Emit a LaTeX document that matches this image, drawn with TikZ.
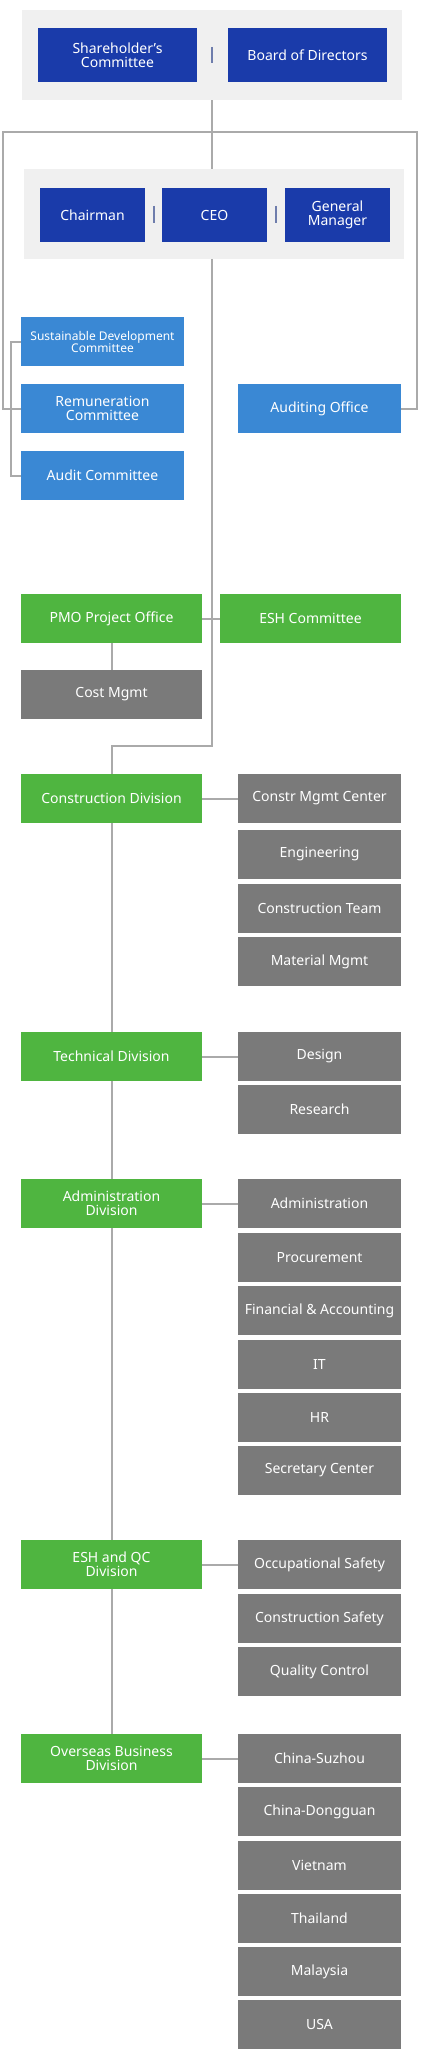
\documentclass[tikz,border=0pt]{standalone}
\usepackage{fontspec}
\setmainfont{Noto Sans}
\definecolor{navy}{RGB}{26,59,170}
\definecolor{skyblue}{RGB}{58,136,212}
\definecolor{leafgreen}{RGB}{79,181,64}
\definecolor{unitgray}{RGB}{122,122,122}
\definecolor{linegray}{RGB}{170,170,170}
\definecolor{panelgray}{RGB}{240,240,240}
\definecolor{sepblue}{RGB}{110,125,172}

\begin{document}
\begin{tikzpicture}[x=1pt,y=-1pt,
  box/.style={rectangle,inner sep=0pt,text=white,align=center,font=\fontsize{14}{14}\selectfont},
  topbox/.style={box,fill=navy,minimum height=54pt},
  combox/.style={box,fill=skyblue,minimum width=163pt,minimum height=49pt},
  divbox/.style={box,fill=leafgreen,minimum width=181pt,minimum height=49pt},
  unitbox/.style={box,fill=unitgray,minimum width=163pt,minimum height=49pt},
  panel/.style={rectangle,fill=panelgray,inner sep=0pt,minimum width=380pt,minimum height=90pt},
  link/.style={draw=linegray,line width=2pt},
  bar/.style={draw=sepblue,line width=2pt}]
\useasboundingbox (0,0) rectangle (421,2060);
% top panels
\node[panel] (p1) at (212,55) {};
\node[panel] (p2) at (214,214) {};
\node[topbox,minimum width=159pt] (sh) at (117.5,55) {Shareholder’s\\Committee};
\node[topbox,minimum width=159pt] (bd) at (307.5,55) {Board of Directors};
\node[topbox,minimum width=105pt] (ch) at (92.5,215) {Chairman};
\node[topbox,minimum width=105pt] (ceo) at (214.5,215) {CEO};
\node[topbox,minimum width=105pt] (gm) at (337.5,215) {General\\Manager};
\draw[bar] (212,47) -- (212,63);
\draw[bar] (154,206) -- (154,223);
\draw[bar] (276,206) -- (276,223);
% committees
\node[combox,font=\fontsize{12}{12}\selectfont] (sus) at (102.5,341.5) {Sustainable Development\\Committee};
\node[combox] (rem) at (102.5,408.5) {Remuneration\\Committee};
\node[combox] (adt) at (102.5,475.5) {Audit Committee};
\node[combox] (aud) at (319.5,408.5) {Auditing Office};
\coordinate (tl) at (3,132);
\coordinate (tr) at (417,132);
\coordinate (bend) at (212,746);
\draw[link] (p1.south) -- (p1.south |- p2.north);
\draw[link] (rem.west) -| (tl) -- (tr) |- (aud.east);
\draw[link] (sus.west) -- ++(-10,0) |- (adt.west);
% offices
\node[divbox] (pmo) at (111.5,618.5) {PMO Project Office};
\node[divbox] (esh) at (310.5,618.5) {ESH Committee};
\node[divbox,fill=unitgray] (cost) at (111.5,694.5) {Cost Mgmt};
\draw[link] (pmo.east) -- (esh.west);
\draw[link] (pmo.south) -- (cost.north);
% divisions
\node[divbox] (con) at (111.5,798.5) {Construction Division};
\node[divbox] (tec) at (111.5,1056.5) {Technical Division};
\node[divbox] (adm) at (111.5,1203.5) {Administration\\Division};
\node[divbox] (esq) at (111.5,1564.5) {ESH and QC\\Division};
\node[divbox] (ovs) at (111.5,1758.5) {Overseas Business\\Division};
\draw[link] (p1.south |- p2.south) -- (bend) -| (con.north);
\draw[link] (con.south) -- (tec.north);
\draw[link] (tec.south) -- (adm.north);
\draw[link] (adm.south) -- (esq.north);
\draw[link] (esq.south) -- (ovs.north);
% units
\foreach \y/\t [count=\i] in {798.5/Constr Mgmt Center,854.5/Engineering,908.5/Construction Team,961.5/Material Mgmt}
  \node[unitbox] (con\i) at (319.5,\y) {\t};
\foreach \y/\t [count=\i] in {1056.5/Design,1109.5/Research}
  \node[unitbox] (tec\i) at (319.5,\y) {\t};
\foreach \y/\t [count=\i] in {1203.5/Administration,1257.5/Procurement,1310.5/Financial \& Accounting,1364.5/IT,1417.5/HR,1470.5/Secretary Center}
  \node[unitbox] (adm\i) at (319.5,\y) {\t};
\foreach \y/\t [count=\i] in {1564.5/Occupational Safety,1618.5/Construction Safety,1671.5/Quality Control}
  \node[unitbox] (esq\i) at (319.5,\y) {\t};
\foreach \y/\t [count=\i] in {1758.5/China-Suzhou,1811.5/China-Dongguan,1865.5/Vietnam,1918.5/Thailand,1971.5/Malaysia,2024.5/USA}
  \node[unitbox] (ovs\i) at (319.5,\y) {\t};
\foreach \d in {con,tec,adm,esq,ovs}
  \draw[link] (\d.east) -- (\d1.west);
\end{tikzpicture}
\end{document}
